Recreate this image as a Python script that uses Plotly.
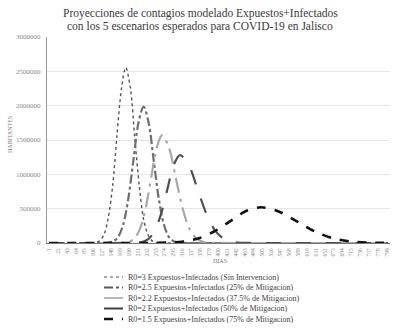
import plotly.graph_objects as go

title_line1 = "Proyecciones de contagios modelado Expuestos+Infectados"
title_line2 = "con los 5 escenarios esperados para COVID-19 en Jalisco"

series_names = [
    "R0=3 Expuestos+Infectados (Sin Intervencion)",
    "R0=2.5 Expuestos+Infectados (25% de Mitigacion)",
    "R0=2.2 Expuestos+Infectados (37.5% de Mitigacion)",
    "R0=2 Expuestos+Infectados (50% de Mitigacion)",
    "R0=1.5 Expuestos+Infectados (75% de Mitigacion)",
]

# Days and values read (estimated) from the picture
days_r30 = [1, 60, 95, 109, 119, 130, 140, 151, 161, 172, 182, 193, 203, 214, 224, 235, 245, 256, 280, 400, 801]
vals_r30 = [0, 0, 1000, 5600, 28000, 112000, 346000, 830000, 1550000, 2255000, 2555000,
            2255000, 1550000, 830000, 346000, 112000, 28000, 5600, 500, 0, 0]

days_r25 = [1, 80, 128, 140, 152, 164, 176, 188, 200, 212, 224, 236, 248, 260, 272, 284, 296, 308, 330, 450, 801]
vals_r25 = [0, 0, 800, 4400, 22000, 87000, 269000, 645000, 1204000, 1752000, 1985000,
            1752000, 1204000, 645000, 269000, 87000, 22000, 4400, 500, 0, 0]

days_r22 = [1, 100, 164, 177, 190, 203, 216, 229, 242, 255, 268, 284, 300, 316, 332, 348, 364, 380, 410, 520, 801]
vals_r22 = [0, 0, 600, 3500, 17000, 69000, 212000, 510000, 952000, 1386000, 1570000,
            1386000, 952000, 510000, 212000, 69000, 17000, 3500, 400, 0, 0]

days_r20 = [1, 120, 190, 205, 220, 235, 250, 265, 280, 295, 310, 331, 352, 373, 394, 415, 436, 457, 490, 580, 801]
vals_r20 = [0, 0, 500, 2800, 14000, 56000, 173000, 416000, 776000, 1130000, 1280000,
            1130000, 776000, 416000, 173000, 56000, 14000, 2800, 400, 0, 0]

days_r15 = [1, 180, 246, 282, 318, 355, 391, 428, 464, 501, 543, 586, 628, 671, 713, 756, 801]
vals_r15 = [0, 0, 1000, 6000, 23000, 70000, 169000, 315000, 459000, 520000,
            459000, 315000, 169000, 70000, 23000, 6000, 1000]

tick_days = list(range(1, 802, 21))
tick_labels = [str(d) for d in tick_days]
y_ticks = [0, 500000, 1000000, 1500000, 2000000, 2500000, 3000000]

styles = [
    dict(color="#555555", width=1.4, dash="dot"),
    dict(color="#6e6e6e", width=2.2, dash="dashdot"),
    dict(color="#a8a8a8", width=2.2, dash="longdashdot"),
    dict(color="#505050", width=2.2, dash="longdash"),
    dict(color="#111111", width=2.6, dash="dash"),
]
legend_styles = [
    dict(color="#555555", width=1.2, dash="dot"),
    dict(color="#5a5a5a", width=2.2, dash="dashdot"),
    dict(color="#a8a8a8", width=1.6, dash="solid"),
    dict(color="#404040", width=2.0, dash="solid"),
    dict(color="#111111", width=2.4, dash="dash"),
]

data = [(days_r30, vals_r30), (days_r25, vals_r25), (days_r22, vals_r22),
        (days_r20, vals_r20), (days_r15, vals_r15)]

serif = "Liberation Serif, Times New Roman, serif"

fig = go.Figure()
for (xs, ys), name, st in zip(data, series_names, styles):
    fig.add_trace(go.Scatter(x=xs, y=ys, mode="lines", name=name, showlegend=False,
                             line=dict(shape="spline", smoothing=0.9, **st)))

# custom compact legend below the plot (paper coordinates)
L, R, T, B = 47, 11, 37, 85
W, H = 401, 328
pw, ph = W - L - R, H - T - B
def px(x):
    return (x - L) / pw
def py(y):
    return (H - B - y) / ph

rows = [277, 287.5, 298, 308.5, 319]
shapes = []
annotations = []
for name, st, ry in zip(series_names, legend_styles, rows):
    shapes.append(dict(type="line", xref="paper", yref="paper",
                       x0=px(104), x1=px(123), y0=py(ry), y1=py(ry), line=st))
    annotations.append(dict(text=name, xref="paper", yref="paper", x=px(126), y=py(ry),
                            xanchor="left", yanchor="middle", showarrow=False,
                            font=dict(family=serif, size=8, color="#444444")))

for txt, ty in [(title_line1, 13), (title_line2, 26)]:
    annotations.append(dict(text=txt, xref="paper", yref="paper", x=px(200), y=py(ty),
                            xanchor="center", yanchor="middle", showarrow=False,
                            font=dict(family=serif, size=11.5, color="#3a3a3a")))

annotations.append(dict(text="DIAS", xref="paper", yref="paper", x=px(220), y=py(261),
                        xanchor="center", yanchor="middle", showarrow=False,
                        font=dict(family=serif, size=6, color="#777777")))
annotations.append(dict(text="HABITANTES", xref="paper", yref="paper", x=px(10), y=py(135),
                        xanchor="center", yanchor="middle", showarrow=False, textangle=-90,
                        font=dict(family=serif, size=6, color="#777777")))

fig.update_layout(
    width=W, height=H,
    margin=dict(l=L, r=R, t=T, b=B, autoexpand=False),
    paper_bgcolor="white", plot_bgcolor="white",
    font=dict(family=serif, color="#555555"),
    showlegend=False,
    shapes=shapes,
    annotations=annotations,
    xaxis=dict(range=[-4, 806], tickmode="array", tickvals=tick_days, ticktext=tick_labels,
               tickangle=-90, tickfont=dict(size=5.5, color="#8a8a8a"),
               showgrid=False, showline=True, linecolor="#777777", linewidth=1,
               zeroline=False, ticks="", ticklabelstandoff=2),
    yaxis=dict(range=[0, 3000000], tickmode="array", tickvals=y_ticks,
               ticktext=[str(v) for v in y_ticks],
               tickfont=dict(size=7, color="#8a8a8a"),
               showgrid=True, gridcolor="#e6e6e6", gridwidth=1,
               showline=True, linecolor="#999999", linewidth=1, zeroline=False,
               ticks="", ticklabelstandoff=4),
)

fig.write_html("out.html", config={"displayModeBar": False},
               post_script="document.body.style.margin='0px';document.body.style.padding='0px';")
